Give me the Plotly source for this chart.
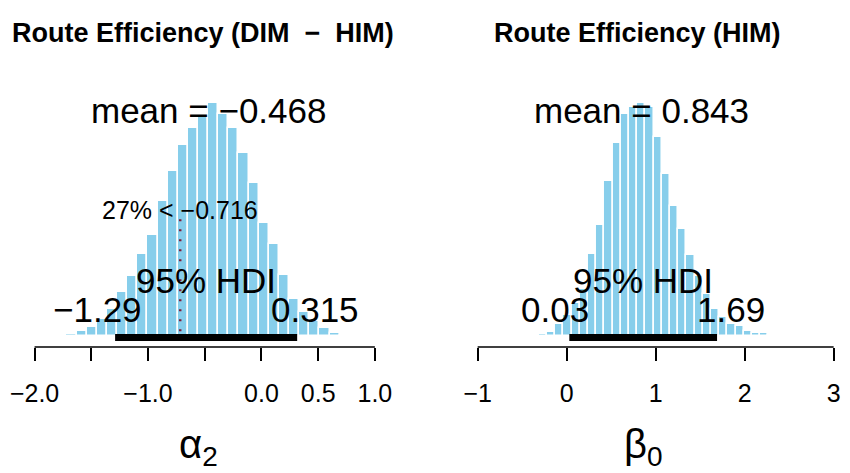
import plotly.graph_objects as go

# posterior histograms (density, bins of equal width)
left_start = -1.808
left_width = 0.0892
left_density = [0.002, 0.007, 0.021, 0.038, 0.070, 0.112, 0.184, 0.251, 0.342, 0.424,
                0.566, 0.690, 0.798, 0.869, 0.920, 0.973, 0.928, 0.868, 0.764, 0.638,
                0.472, 0.385, 0.254, 0.153, 0.100, 0.061, 0.033, 0.013, 0.003]
left_mean = -0.468
left_hdi = [-1.29, 0.315]
comp_val = -0.716
comp_pct = 27

right_start = -0.407
right_width = 0.0922
right_density = [0.002, 0.007, 0.018, 0.049, 0.086, 0.135, 0.192, 0.335, 0.453, 0.632,
                 0.787, 0.906, 0.934, 0.950, 0.936, 0.812, 0.661, 0.530, 0.435, 0.329,
                 0.245, 0.171, 0.110, 0.078, 0.050, 0.041, 0.020, 0.011, 0.011, 0.004]
right_mean = 0.843
right_hdi = [0.03, 1.69]

left_ticks = [-2.0, -1.5, -1.0, -0.5, 0.0, 0.5, 1.0]
left_ticktext = ["−2.0", "", "−1.0", "", "0.0", "0.5", "1.0"]
right_ticks = [-1, 0, 1, 2, 3]
right_ticktext = ["−1", "0", "1", "2", "3"]

titles = ["Route Efficiency (DIM\u00a0\u00a0−\u00a0\u00a0HIM)", "Route Efficiency (HIM)"]
xlabels = ["α<sub>2</sub>", "β<sub>0</sub>"]

FONT = "Liberation Sans, Arial, Helvetica, sans-serif"
BAR = "#87CEEB"
W, H = 850, 473
OFF = 8  # page body margin, pull everything back by it


def fmt(v):
    return f"{v:g}".replace("-", "−")


def px(v):
    return (v - OFF) / W


def py(v):
    return (H - (v - OFF)) / H


panels = [
    dict(start=left_start, width=left_width, dens=left_density, mean=left_mean,
         hdi=left_hdi, ticks=left_ticks, ticktext=left_ticktext,
         xrange=[-2.199, 1.231], dom=[px(10), px(400)], mean_txt="−0.468",
         tx=201, lx=197),
    dict(start=right_start, width=right_width, dens=right_density, mean=right_mean,
         hdi=right_hdi, ticks=right_ticks, ticktext=right_ticktext,
         xrange=[-1.300, 3.128], dom=[px(450), px(845)], mean_txt="0.843",
         tx=636.5, lx=643),
]

fig = go.Figure()
annotations = []
shapes = []
ydom = [py(347), py(60)]

for i, p in enumerate(panels):
    n = i + 1
    xa = "x" if n == 1 else f"x{n}"
    ya = "y" if n == 1 else f"y{n}"
    centers = [p["start"] + p["width"] * (k + 0.5) for k in range(len(p["dens"]))]
    peak = max(p["dens"])
    fig.add_trace(go.Bar(x=centers, y=p["dens"], width=p["width"], xaxis=xa, yaxis=ya,
                         marker=dict(color=BAR, line=dict(color="white", width=1.5)),
                         showlegend=False, hoverinfo="skip"))

    fig.update_layout(**{
        f"xaxis{'' if n == 1 else n}": dict(
            domain=p["dom"], range=p["xrange"], anchor=ya,
            tickmode="array", tickvals=p["ticks"], ticktext=p["ticktext"],
            ticks="outside", ticklen=13, tickwidth=1.5, tickcolor="black",
            showline=False, showgrid=False, zeroline=False,
            tickfont=dict(family=FONT, size=25, color="black"),
            ticklabelstandoff=11, ticklabeloverflow="allow"),
        f"yaxis{'' if n == 1 else n}": dict(
            domain=ydom, range=[-0.0472 * peak, 1.185 * peak], anchor=xa,
            visible=False, fixedrange=True),
    })

    # axis line spanning only the ticks (R style)
    shapes.append(dict(type="line", xref=xa, yref=f"{ya} domain",
                       x0=p["ticks"][0], x1=p["ticks"][-1], y0=0, y1=0,
                       line=dict(color="black", width=1.5)))
    # HDI bar
    shapes.append(dict(type="line", xref=xa, yref=ya, x0=p["hdi"][0], x1=p["hdi"][1],
                       y0=-0.006 * peak, y1=-0.006 * peak, line=dict(color="black", width=7)))

    big = dict(family=FONT, size=35, color="black")
    annotations += [
        dict(x=p["mean"], y=0.970 * peak, xref=xa, yref=ya, text="mean = " + p["mean_txt"],
             showarrow=False, font=big, xanchor="center", yanchor="middle"),
        dict(x=sum(p["hdi"]) / 2, y=0.24 * peak, xref=xa, yref=ya, text="95% HDI",
             showarrow=False, font=big, xanchor="center", yanchor="middle"),
        dict(x=p["hdi"][0], y=0.112 * peak, xref=xa, yref=ya, text=fmt(p["hdi"][0]),
             showarrow=False, font=big, xanchor="center", yanchor="middle",
             xshift=-0.2 * 25 * len(fmt(p["hdi"][0])) * 0.7),
        dict(x=p["hdi"][1], y=0.112 * peak, xref=xa, yref=ya, text=fmt(p["hdi"][1]),
             showarrow=False, font=big, xanchor="center", yanchor="middle",
             xshift=0.2 * 25 * len(fmt(p["hdi"][1])) * 0.7),
        dict(x=px(p["tx"]), y=py(33), xref="paper", yref="paper",
             text="<b>" + titles[i] + "</b>", showarrow=False,
             font=dict(family=FONT, size=27, color="black"), xanchor="center", yanchor="middle"),
        dict(x=px(p["lx"]), y=py(447), xref="paper", yref="paper",
             text=xlabels[i], showarrow=False,
             font=dict(family=FONT, size=40, color="black"), xanchor="center", yanchor="middle"),
    ]

# comparison value on the left panel
lpeak = max(left_density)
shapes.append(dict(type="line", xref="x", yref="y", x0=comp_val, x1=comp_val,
                   y0=0.02 * lpeak, y1=0.532 * lpeak,
                   line=dict(color="#7a1f3d", width=2.5, dash="2px,8px")))
annotations.append(dict(x=comp_val, y=0.541 * lpeak, xref="x", yref="y",
                        text=f"{comp_pct}% < {fmt(comp_val)}", showarrow=False,
                        font=dict(family=FONT, size=25, color="black"),
                        xanchor="center", yanchor="middle"))

fig.update_layout(
    width=W, height=H, margin=dict(l=0, r=0, t=0, b=0),
    plot_bgcolor="white", paper_bgcolor="white",
    bargap=0, shapes=shapes, annotations=annotations,
)

fig.write_html("out.html")
